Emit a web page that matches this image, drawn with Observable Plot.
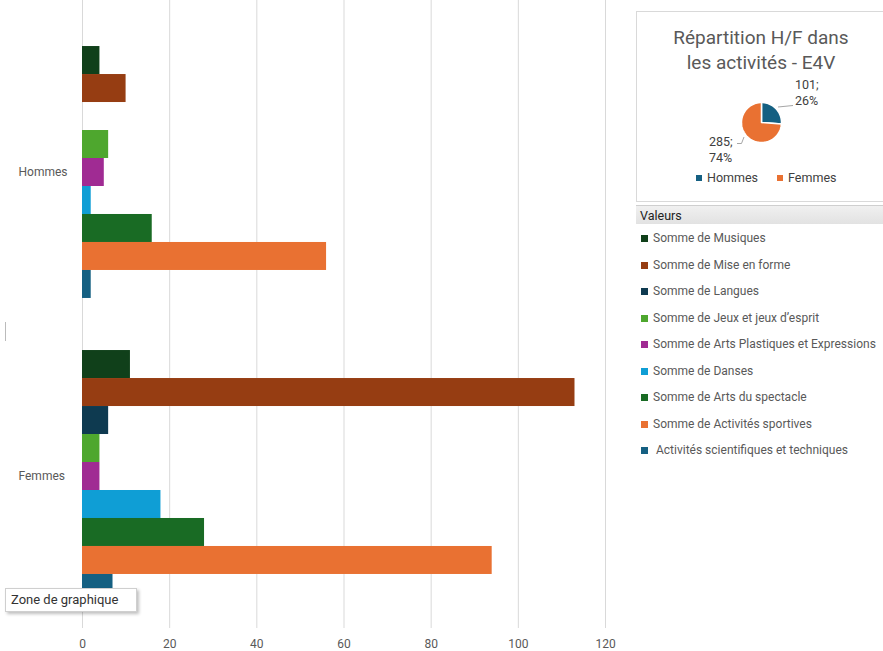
<!DOCTYPE html>
<html><head><meta charset="utf-8">
<script src="https://cdn.jsdelivr.net/npm/d3@7"></script>
<script src="https://cdn.jsdelivr.net/npm/@observablehq/plot@0.6"></script>
<style>
body{margin:0;background:#fff;font-family:Roboto,"Noto Sans",sans-serif;}
#wrap{position:relative;width:883px;height:651px;overflow:hidden;background:#fff;}
#grid,#bar{position:absolute;left:0;top:0;}
#piebox{position:absolute;left:636px;top:11px;width:270px;height:189px;border:1px solid #d9d9d9;background:#fff;}
#pietitle{position:absolute;left:636px;top:25px;width:250px;text-align:center;font-size:19px;line-height:25px;color:#595959;}
#pie{position:absolute;left:731px;top:92px;}
.plbl{position:absolute;font-size:12.5px;line-height:16px;color:#404040;}
#pieleg{position:absolute;top:170px;left:696px;font-size:12.5px;color:#404040;white-space:nowrap;}
#pieleg span.sq{display:inline-block;width:6px;height:6px;margin-right:5px;vertical-align:1px;}
#valhdr{position:absolute;left:636px;top:205px;width:260px;height:19px;background:linear-gradient(#f0f0f0,#e2e2e2);border-top:1px solid #cfcfcf;font-size:12.5px;line-height:19px;color:#222;padding-left:4px;box-sizing:border-box;}
#leg{position:absolute;left:641px;top:230px;font-size:12px;color:#595959;white-space:nowrap;}
#leg div{height:26.5px;line-height:16px;}
#leg span.sq{display:inline-block;width:7px;height:7px;margin-right:5px;vertical-align:0px;}
#tip{position:absolute;left:5px;top:588px;width:132px;height:24px;box-sizing:border-box;border:1px solid #cfcfcf;background:#fff;box-shadow:2px 2px 3px rgba(0,0,0,0.25);font-size:13px;line-height:22px;color:#333;padding-left:5px;}
#tick{position:absolute;left:5px;top:322px;width:1px;height:19px;background:#bbb;}
</style></head><body>
<div id="wrap">
  <div id="grid"></div>
  <div id="bar"></div>
  <div id="tick"></div>
  <div id="piebox"></div>
  <div id="pietitle">Répartition H/F dans<br>les activités - E4V</div>
  <div id="pie"></div>
  <div class="plbl" id="l1" style="left:795px;top:77px;">101;<br>26%</div>
  <div class="plbl" id="l2" style="left:709px;top:134px;">285;<br>74%</div>
  <svg style="position:absolute;left:730px;top:100px;" width="70" height="50">
    <polyline points="48,7 63,5.5" fill="none" stroke="#a6a6a6" stroke-width="1"/>
    <polyline points="14,37 11.5,43.5 7,43.5" fill="none" stroke="#a6a6a6" stroke-width="1"/>
  </svg>
  <div id="pieleg"></div>
  <div id="valhdr">Valeurs</div>
  <div id="leg"></div>
  <div id="tip">Zone de graphique</div>
</div>
<script>
const groups = ["Hommes", "Femmes"];
const series = [
  "Somme de Musiques",
  "Somme de Mise en forme",
  "Somme de Langues",
  "Somme de Jeux et jeux d’esprit",
  "Somme de Arts Plastiques et Expressions",
  "Somme de Danses",
  "Somme de Arts du spectacle",
  "Somme de Activités sportives",
  " Activités scientifiques et techniques"
];
const hommesValues = [4, 10, 0, 6, 5, 2, 16, 56, 2];
const femmesValues = [11, 113, 6, 4, 4, 18, 28, 94, 7];
const seriesColors = ["#10401a", "#963d12", "#0e3a50", "#4ea72e", "#a02b93", "#0f9ed5", "#196b24", "#e97132", "#156082"];
const xTicks = [0, 20, 40, 60, 80, 100, 120];

const pieLabels = ["Hommes", "Femmes"];
const pieValues = [101, 285];
const pieColors = ["#156082", "#e97132"];

const W = 620, H = 651, ML = 82, MR = 15, MB = 23;
const fontStyle = {fontFamily: "Roboto, 'Noto Sans', sans-serif", fontSize: "12px", color: "#595959", background: "transparent"};

// ---- gridlines (full plot height, behind the faceted bars)
const grid = Plot.plot({
  width: W, height: H, marginLeft: ML, marginRight: MR, marginTop: 0, marginBottom: MB,
  style: fontStyle,
  x: {domain: [0, 120], ticks: xTicks, tickSize: 0, tickPadding: 11, label: null, tickFormat: d => String(d)},
  marks: [
    Plot.ruleX(xTicks, {stroke: "#d9d9d9", strokeWidth: 1})
  ]
});
document.getElementById("grid").appendChild(grid);

// ---- bar chart
const groupValues = [hommesValues, femmesValues];
const barData = [];
groups.forEach((g, gi) => series.forEach((s, si) => barData.push({group: g, series: s, value: groupValues[gi][si]})));

const bar = Plot.plot({
  width: W, height: H,
  marginLeft: ML, marginRight: MR, marginTop: 0, marginBottom: MB,
  style: fontStyle,
  x: {domain: [0, 120], axis: null},
  y: {domain: series, paddingInner: 0, paddingOuter: 0.93, round: false, axis: null},
  fy: {domain: groups, range: [20, 628], padding: 0, round: false, axis: null},
  color: {domain: series, range: seriesColors},
  marks: [
    Plot.barX(barData, {x: "value", y: "series", fy: "group", fill: "series"}),
    Plot.text(groups, {fy: d => d, text: d => d, frameAnchor: "left", textAnchor: "start", dx: -64, fill: "#595959", fontSize: 12})
  ]
});
document.getElementById("bar").appendChild(bar);

// ---- pie chart
const arcs = d3.pie().sort(null).startAngle(0).endAngle(2 * Math.PI)(pieValues);
const piePts = [];
arcs.forEach((a, i) => {
  piePts.push({slice: pieLabels[i], px: 0, py: 0});
  const n = Math.max(4, Math.ceil((a.endAngle - a.startAngle) / 0.03));
  for (let k = 0; k <= n; k++) {
    const t = a.startAngle + (a.endAngle - a.startAngle) * k / n;
    piePts.push({slice: pieLabels[i], px: Math.sin(t), py: Math.cos(t)});
  }
});
const pie = Plot.plot({
  width: 60, height: 60, margin: 10,
  x: {domain: [-1, 1], axis: null},
  y: {domain: [-1, 1], axis: null},
  color: {domain: pieLabels, range: pieColors},
  style: {background: "transparent"},
  marks: [
    Plot.line(piePts, {x: "px", y: "py", z: "slice", fill: "slice", stroke: "white", strokeWidth: 1.5, curve: "linear-closed"})
  ]
});
document.getElementById("pie").appendChild(pie);

// ---- legends
document.getElementById("pieleg").innerHTML = pieLabels.map((l, i) =>
  `<span class="sq" style="background:${pieColors[i]}"></span>${l}`).join('<span style="display:inline-block;width:19px"></span>');
document.getElementById("leg").innerHTML = series.map((s, i) =>
  `<div><span class="sq" style="background:${seriesColors[i]}"></span>${s}</div>`).join("");
</script>
</body></html>
